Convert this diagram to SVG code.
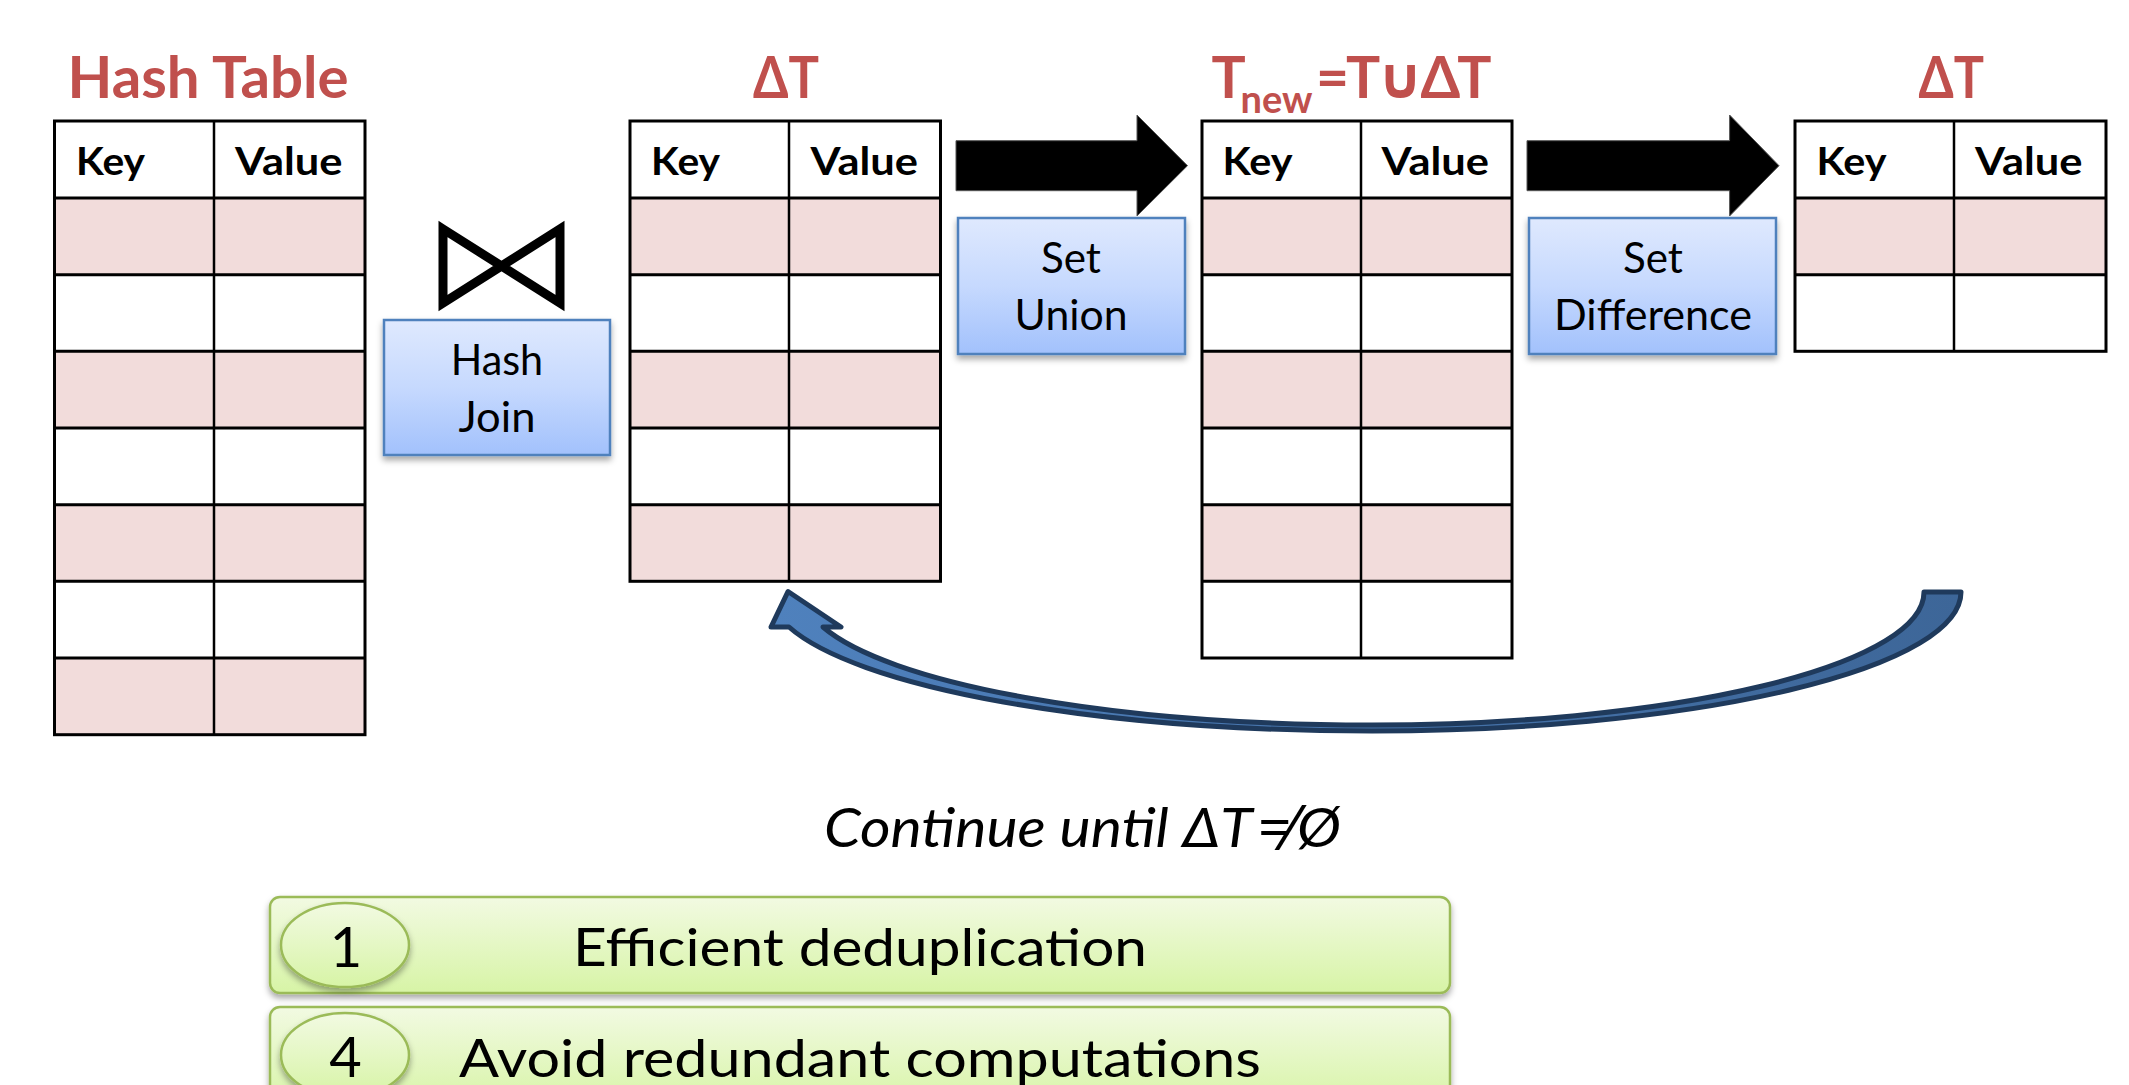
<svg xmlns="http://www.w3.org/2000/svg" width="2129" height="1085" viewBox="0 0 2129 1085">
<defs>
<linearGradient id="blueBox" x1="0" y1="0" x2="0" y2="1">
<stop offset="0" stop-color="#DFE9FE"/>
<stop offset="0.5" stop-color="#C6D9FE"/>
<stop offset="1" stop-color="#A2C1FC"/>
</linearGradient>
<linearGradient id="greenBox" x1="0" y1="0" x2="0" y2="1">
<stop offset="0" stop-color="#F2FAE2"/>
<stop offset="1" stop-color="#D7F4A6"/>
</linearGradient>
<linearGradient id="curveFill" x1="0" y1="0" x2="1" y2="0">
<stop offset="0" stop-color="#4F81BD"/>
<stop offset="1" stop-color="#3D6698"/>
</linearGradient>
<filter id="shadow" x="-10%" y="-10%" width="120%" height="130%">
<feDropShadow dx="0" dy="4" stdDeviation="3" flood-color="#000" flood-opacity="0.35"/>
</filter>
<style>
.pink{fill:#F2DCDB}
.cell{fill:#FFFFFF}
.grid{fill:none;stroke:#000;stroke-width:3}
.div{fill:none;stroke:#000;stroke-width:2.5}
.title{font-family:Lato,"Noto Sans","DejaVu Sans",sans-serif;font-weight:700;font-size:57px;fill:#C0504D}
.hdr{font-family:Lato,"Noto Sans","DejaVu Sans",sans-serif;font-weight:700;font-size:39px;fill:#000}
.op{font-family:Lato,"Noto Sans","DejaVu Sans",sans-serif;font-size:42px;fill:#000}
.opbox{fill:url(#blueBox);stroke:#4F81BD;stroke-width:2.5;filter:url(#shadow)}
.note{font-family:Lato,"Noto Sans","DejaVu Sans",sans-serif;font-style:italic;font-size:54px;fill:#000}
.sym{font-family:"Noto Sans","DejaVu Sans",sans-serif}
.item{font-family:Lato,"Noto Sans","DejaVu Sans",sans-serif;font-size:53px;fill:#000}
.num{font-family:Lato,"Noto Sans","DejaVu Sans",sans-serif;font-size:56px;fill:#000;text-anchor:middle}
.gbox{fill:url(#greenBox);stroke:#9BBB59;stroke-width:2.5;filter:url(#shadow)}
.gell{fill:url(#greenBox);stroke:#9BBB59;stroke-width:2.5;filter:url(#shadow)}
.block{fill:#000;stroke:#555;stroke-width:1}
.curve{fill:url(#curveFill);stroke:#1F3A5C;stroke-width:5;stroke-linejoin:round}
</style>
</defs>
<rect width="2129" height="1085" fill="#FFFFFF"/>

<g id="hash-table">
<text class="title" x="67.6" y="98" textLength="281" lengthAdjust="spacingAndGlyphs">Hash Table</text>
<rect class="cell" x="54.5" y="121" width="310.5" height="613.7"/>
<rect class="pink" x="54.5" y="198" width="310.5" height="76.7"/>
<rect class="pink" x="54.5" y="351.3" width="310.5" height="76.7"/>
<rect class="pink" x="54.5" y="504.7" width="310.5" height="76.6"/>
<rect class="pink" x="54.5" y="658" width="310.5" height="76.7"/>
<rect class="grid" x="54.5" y="121" width="310.5" height="613.7"/>
<path class="grid" d="M54.5,198H365M54.5,274.7H365M54.5,351.3H365M54.5,428H365M54.5,504.7H365M54.5,581.3H365M54.5,658H365"/>
<path class="div" d="M214,121V734.7"/>
<text class="hdr" x="76" y="175" textLength="69" lengthAdjust="spacingAndGlyphs">Key</text>
<text class="hdr" x="235" y="175" textLength="107.5" lengthAdjust="spacingAndGlyphs">Value</text>
</g>

<g id="delta-t">
<text class="title" x="753" y="98" textLength="66" lengthAdjust="spacingAndGlyphs">ΔT</text>
<rect class="cell" x="630" y="121" width="310.5" height="460.3"/>
<rect class="pink" x="630" y="198" width="310.5" height="76.7"/>
<rect class="pink" x="630" y="351.3" width="310.5" height="76.7"/>
<rect class="pink" x="630" y="504.7" width="310.5" height="76.6"/>
<rect class="grid" x="630" y="121" width="310.5" height="460.3"/>
<path class="grid" d="M630,198H940.5M630,274.7H940.5M630,351.3H940.5M630,428H940.5M630,504.7H940.5"/>
<path class="div" d="M789,121V581.3"/>
<text class="hdr" x="651" y="175" textLength="69" lengthAdjust="spacingAndGlyphs">Key</text>
<text class="hdr" x="810.5" y="175" textLength="107.5" lengthAdjust="spacingAndGlyphs">Value</text>
</g>

<g id="t-new">
<text class="title" x="1211.5" y="98"><tspan x="1211.5" y="98">T</tspan><tspan x="1240.5" y="113" font-size="38px">new</tspan><tspan x="1316" y="98" letter-spacing="-3">=T∪ΔT</tspan></text>
<rect class="cell" x="1202" y="121" width="310" height="537"/>
<rect class="pink" x="1202" y="198" width="310" height="76.7"/>
<rect class="pink" x="1202" y="351.3" width="310" height="76.7"/>
<rect class="pink" x="1202" y="504.7" width="310" height="76.6"/>
<rect class="grid" x="1202" y="121" width="310" height="537"/>
<path class="grid" d="M1202,198H1512M1202,274.7H1512M1202,351.3H1512M1202,428H1512M1202,504.7H1512M1202,581.3H1512"/>
<path class="div" d="M1361,121V658"/>
<text class="hdr" x="1222.5" y="175" textLength="70" lengthAdjust="spacingAndGlyphs">Key</text>
<text class="hdr" x="1381.5" y="175" textLength="107.5" lengthAdjust="spacingAndGlyphs">Value</text>
</g>

<g id="delta-t-result">
<text class="title" x="1918.5" y="98" textLength="65.5" lengthAdjust="spacingAndGlyphs">ΔT</text>
<rect class="cell" x="1795" y="121" width="311" height="230.3"/>
<rect class="pink" x="1795" y="198" width="311" height="76.7"/>
<rect class="grid" x="1795" y="121" width="311" height="230.3"/>
<path class="grid" d="M1795,198H2106M1795,274.7H2106"/>
<path class="div" d="M1954,121V351.3"/>
<text class="hdr" x="1816.5" y="175" textLength="70" lengthAdjust="spacingAndGlyphs">Key</text>
<text class="hdr" x="1975" y="175" textLength="107.5" lengthAdjust="spacingAndGlyphs">Value</text>
</g>

<g id="hash-join">
<path d="M443,229 L560,303 L560,229 L443,303 Z" fill="none" stroke="#000" stroke-width="9"/>
<rect class="opbox" x="384" y="320" width="226" height="135"/>
<text class="op" x="450.7" y="375" textLength="92.5" lengthAdjust="spacingAndGlyphs">Hash</text>
<text class="op" x="458.5" y="431.5" textLength="77" lengthAdjust="spacingAndGlyphs">Join</text>
</g>

<g id="set-union">
<rect class="opbox" x="958" y="218" width="227" height="136"/>
<text class="op" x="1041" y="273" textLength="60" lengthAdjust="spacingAndGlyphs">Set</text>
<text class="op" x="1014.6" y="330" textLength="113" lengthAdjust="spacingAndGlyphs">Union</text>
</g>

<g id="set-difference">
<rect class="opbox" x="1529" y="218" width="247" height="136"/>
<text class="op" x="1623" y="273" textLength="60" lengthAdjust="spacingAndGlyphs">Set</text>
<text class="op" x="1554" y="330" textLength="198" lengthAdjust="spacingAndGlyphs">Difference</text>
</g>

<g id="connectors">
<path class="block" d="M956,140.7 L1137,140.7 L1137,115 L1187.5,165.7 L1137,216 L1137,190.7 L956,190.7 Z"/>
<path class="block" d="M1527,140.7 L1729.6,140.7 L1729.6,115 L1779,165.7 L1729.6,216 L1729.6,190.7 L1527,190.7 Z"/>
<path class="curve" d="M1924,592 L1961,592 A589,139 0 0 1 1372,731 A602.4,139 0 0 1 789,627 L771,627 L788,591.5 L841,627 L823,627 A569,133 0 0 0 1372,725 A552,133 0 0 0 1924,592 Z"/>
</g>

<g id="loop-note">
<text class="note" x="824" y="847" textLength="517" lengthAdjust="spacingAndGlyphs">Continue until ΔT<tspan class="sym" dx="4">≠</tspan><tspan dx="6">Ø</tspan></text>
</g>

<g id="item-1">
<rect class="gbox" x="270" y="897" width="1180" height="96" rx="10" ry="10"/>
<ellipse class="gell" cx="345" cy="945" rx="64" ry="42"/>
<text class="num" x="346" y="967">1</text>
<text class="item" x="573" y="966" textLength="574" lengthAdjust="spacingAndGlyphs">Efficient deduplication</text>
</g>

<g id="item-4">
<rect class="gbox" x="270" y="1007" width="1180" height="100" rx="10" ry="10"/>
<ellipse class="gell" cx="345" cy="1055" rx="64" ry="42"/>
<text class="num" x="345.5" y="1076.5">4</text>
<text class="item" x="459" y="1076.5" textLength="802" lengthAdjust="spacingAndGlyphs">Avoid redundant computations</text>
</g>
</svg>
